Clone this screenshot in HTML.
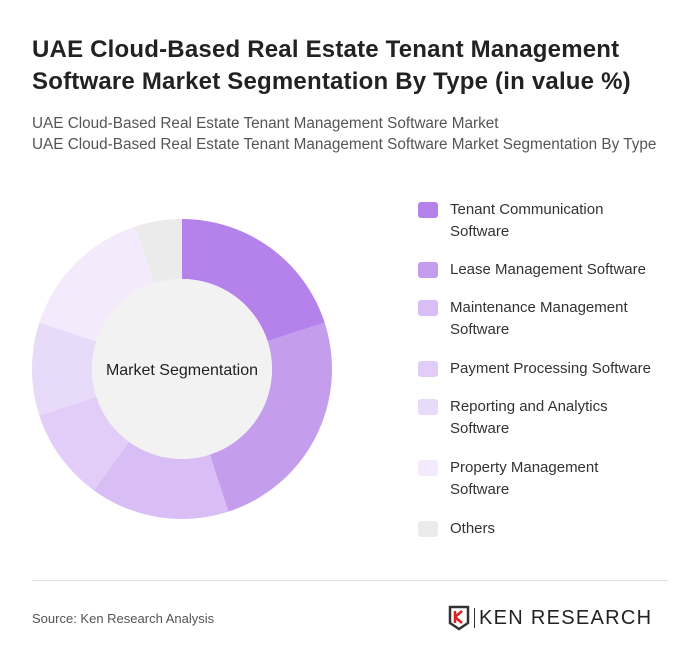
<!DOCTYPE html>
<html><head><meta charset="utf-8"><style>
body{margin:0;background:#fff;}
#card{position:relative;width:700px;height:666px;background:#fff;font-family:"Liberation Sans",sans-serif;overflow:hidden;}
.t{position:absolute;left:32px;top:34px;font-size:24px;font-weight:bold;color:#222;line-height:32px;letter-spacing:0.2px;white-space:nowrap;}
.s{position:absolute;left:32px;top:113px;font-size:15.3px;color:#555;line-height:21px;white-space:nowrap;}
.lg{position:absolute;left:418px;font-size:15px;color:#333;line-height:22px;}
.sw{position:absolute;left:0;top:3px;width:20px;height:16px;border-radius:3px;}
.lt{position:absolute;left:32px;width:260px;}
</style></head><body>
<div id="card">
<div class="t">UAE Cloud-Based Real Estate Tenant Management<br>Software Market Segmentation By Type (in value %)</div>
<div class="s">UAE Cloud-Based Real Estate Tenant Management Software Market<br>UAE Cloud-Based Real Estate Tenant Management Software Market Segmentation By Type</div>
<svg id="donut" width="700" height="666" style="position:absolute;left:0;top:0"></svg>
<div id="legend"></div>
<div style="position:absolute;left:32px;top:580px;width:636px;height:1px;background:#ddd"></div>
<div style="position:absolute;left:32px;top:611px;font-size:13px;color:#555">Source: Ken Research Analysis</div>
<div style="position:absolute;left:448px;top:605px;display:flex;align-items:center">
<svg width="22" height="26" viewBox="0 0 22 26"><path d="M2 2h18v16l-9 6-9-6z" fill="none" stroke="#333" stroke-width="2.5"/><path d="M7 6v12M7 12l7-6M7 12l7 6" stroke="#d22" stroke-width="2.5" fill="none"/></svg>
<span style="width:1px;height:20px;background:#333;margin:0 4px"></span>
<span style="font-size:20px;color:#222;letter-spacing:1.3px">KEN RESEARCH</span></div>
</div>
<script>
const categories=["Tenant Communication Software","Lease Management Software","Maintenance Management Software","Payment Processing Software","Reporting and Analytics Software","Property Management Software","Others"];
const values=[20,25,15,10,10,15,5];
const colors=["#b482ea","#c59ded","#d8bef5","#e1cdf7","#e8daf9","#f3ebfc","#ebebeb"];
const legendLines=[["Tenant Communication","Software"],["Lease Management Software"],["Maintenance Management","Software"],["Payment Processing Software"],["Reporting and Analytics","Software"],["Property Management","Software"],["Others"]];
const legendTops=[199,259,297,358,396,457,518];
const NS="http://www.w3.org/2000/svg";
const svg=document.getElementById('donut');
const cx=182,cy=369,R=150,r=90;
const total=values.reduce((a,b)=>a+b,0);
function pt(a,rad){return [cx+rad*Math.sin(a),cy-rad*Math.cos(a)];}
let acc=0;
values.forEach((v,i)=>{
 const a0=acc/total*2*Math.PI;acc+=v;const a1=acc/total*2*Math.PI;
 const lg=(a1-a0)>Math.PI?1:0;
 const p0=pt(a0,R),p1=pt(a1,R),q1=pt(a1,r),q0=pt(a0,r);
 const p=document.createElementNS(NS,'path');
 p.setAttribute('d',`M${p0}A${R},${R} 0 ${lg} 1 ${p1}L${q1}A${r},${r} 0 ${lg} 0 ${q0}Z`);
 p.setAttribute('fill',colors[i]);
 
 
 svg.appendChild(p);
});
const c=document.createElementNS(NS,'circle');
c.setAttribute('cx',cx);c.setAttribute('cy',cy);c.setAttribute('r',r);c.setAttribute('fill','#f2f2f2');


svg.appendChild(c);
const tx=document.createElementNS(NS,'text');
tx.setAttribute('x',cx);tx.setAttribute('y',cy+6);tx.setAttribute('text-anchor','middle');
tx.setAttribute('font-size','16');tx.setAttribute('fill','#222');tx.setAttribute('font-family','Liberation Sans, sans-serif');
tx.textContent='Market Segmentation';


svg.appendChild(tx);
const lgd=document.getElementById('legend');
categories.forEach((cat,i)=>{
 const d=document.createElement('div');d.className='lg';d.style.top=legendTops[i]+'px';
 
 
 d.innerHTML='<div class="sw" style="background:'+colors[i]+'"></div><div class="lt">'+legendLines[i].join('<br>')+'</div>';
 lgd.appendChild(d);
});
</script>
</body></html>
